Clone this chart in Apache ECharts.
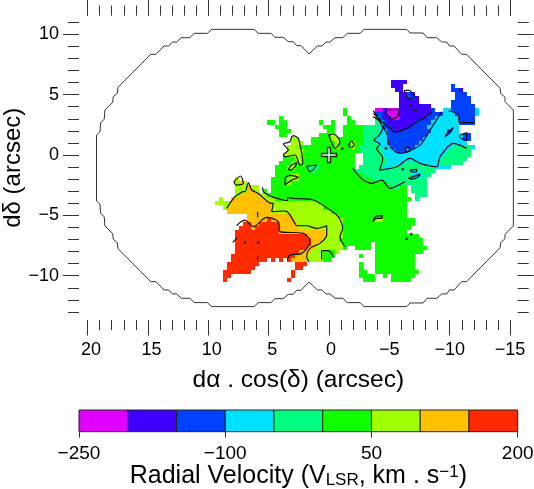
<!DOCTYPE html>
<html><head><meta charset="utf-8"><style>html,body{margin:0;padding:0;background:#fff}#c{width:534px;height:489px}</style>
<script src="https://cdn.jsdelivr.net/npm/echarts@6/dist/echarts.min.js"></script></head>
<body><div id="c"></div>
<script>
const xMajor=[20,15,10,5,0,-5,-10,-15];
const xMinor=[20,19,18,17,16,15,14,13,12,11,10,9,8,7,6,5,4,3,2,1,0,-1,-2,-3,-4,-5,-6,-7,-8,-9,-10,-11,-12,-13,-14,-15];
const yMajor=[10,5,0,-5,-10];
const yMinor=[11,10,9,8,7,6,5,4,3,2,1,0,-1,-2,-3,-4,-5,-6,-7,-8,-9,-10,-11,-12,-13];
const barEdges=[-250,-200,-150,-100,-50,0,50,100,150,200];
const barColors=['#E000FF','#4000FF','#0040FF','#00E0FF','#00FF80','#10FF00','#A0FF00','#FFC000','#FF2A00'];
const binVelocity=[-225,-175,-125,-75,-25,25,75,125,175];
const alphaStart=9.28, alphaStep=0.3314, deltaStart=6.05, deltaStep=0.3355;
// each row: spans of [first column, last column, velocity bin]; later spans overwrite earlier ones
const rowSpans=[
[[44,47,1]],
[[44,46,1],[59,59,2]],
[[45,46,1],[59,60,2],[61,61,1]],
[[46,49,1],[48,48,2],[60,62,2]],
[[46,50,1],[48,49,2],[60,63,2]],
[[46,50,1],[59,63,2]],
[[46,53,1],[59,64,2]],
[[32,32,5],[40,41,0],[42,42,1],[43,45,0],[46,53,1],[54,54,2],[57,58,3],[59,64,2],[65,65,3]],
[[32,32,5],[40,41,2],[42,42,1],[43,45,0],[46,53,1],[54,56,2],[57,59,3],[60,64,2],[65,65,3]],
[[16,16,5],[33,33,5],[40,40,3],[41,41,2],[42,52,1],[44,45,0],[53,54,2],[55,60,3],[61,64,2]],
[[13,14,5],[16,17,5],[26,26,5],[29,29,5],[33,34,5],[40,40,4],[41,41,3],[42,42,2],[43,49,1],[50,53,2],[54,60,3],[61,64,2]],
[[15,17,5],[27,29,5],[32,36,5],[37,40,4],[41,41,3],[42,43,2],[44,48,1],[49,52,2],[53,60,3]],
[[16,18,5],[28,29,5],[32,36,5],[37,40,4],[41,42,3],[43,53,2],[45,45,1],[54,60,3],[58,58,2]],
[[16,17,5],[26,29,5],[29,29,6],[32,36,5],[37,40,4],[41,42,3],[43,52,2],[53,61,3],[62,63,2]],
[[19,20,6],[24,36,5],[29,30,6],[37,39,4],[40,42,3],[43,51,2],[52,61,3],[62,63,2]],
[[19,21,6],[24,36,5],[30,30,6],[34,34,6],[37,40,4],[41,42,3],[43,50,2],[51,62,3]],
[[18,20,6],[21,35,5],[30,30,6],[34,34,6],[36,40,4],[41,43,3],[44,49,2],[50,58,3],[59,63,4],[64,64,3]],
[[18,21,6],[22,35,5],[36,41,4],[42,44,3],[45,47,2],[48,57,3],[58,63,4]],
[[17,21,6],[22,34,5],[37,41,4],[42,56,3],[57,63,4]],
[[17,19,5],[20,21,6],[22,34,5],[37,42,4],[43,55,3],[56,62,4]],
[[16,18,5],[19,19,6],[20,20,5],[21,21,6],[22,34,5],[37,42,4],[43,46,3],[47,50,4],[51,55,3],[56,61,4]],
[[15,17,5],[18,19,6],[20,34,5],[23,25,4],[36,41,4],[42,43,3],[44,54,4],[55,58,3]],
[[15,34,5],[24,24,4],[35,54,4],[49,50,3]],
[[15,36,5],[19,20,6],[37,53,4],[49,51,3]],
[[5,5,6],[14,38,5],[18,20,6],[39,52,4]],
[[5,5,6],[6,6,7],[7,7,6],[14,42,5],[18,18,6],[43,52,4]],
[[5,10,6],[8,8,7],[14,47,5],[44,45,4],[49,52,4]],
[[5,7,6],[8,9,7],[10,10,6],[12,12,5],[14,47,5],[49,52,4]],
[[5,5,6],[6,10,7],[11,12,6],[13,47,5],[50,52,4]],
[[1,1,6],[4,12,7],[13,14,6],[15,48,5],[50,50,4]],
[[0,3,6],[4,13,7],[14,25,6],[26,47,5]],
[[2,2,6],[3,13,7],[14,26,6],[27,47,5]],
[[3,13,7],[14,28,6],[29,47,5]],
[[8,18,7],[19,30,6],[31,47,5]],
[[8,19,7],[13,13,8],[20,31,6],[32,49,5],[40,41,6]],
[[7,8,8],[9,10,7],[11,15,8],[16,19,7],[20,31,6],[32,49,5]],
[[6,8,8],[9,9,7],[10,15,8],[16,20,7],[21,31,6],[32,48,5]],
[[5,15,8],[16,27,7],[28,31,6],[32,47,5]],
[[5,22,8],[23,27,7],[28,31,6],[32,50,5]],
[[5,23,8],[24,26,7],[27,30,6],[31,51,5]],
[[5,23,8],[24,25,7],[26,31,6],[32,38,5],[40,51,5]],
[[5,22,8],[23,24,7],[25,31,6],[32,32,5],[35,38,5],[40,52,5]],
[[5,20,8],[21,23,7],[24,30,6],[27,29,5],[40,51,5]],
[[4,19,8],[20,22,7],[23,26,6],[27,29,5],[36,36,5],[40,49,5]],
[[4,12,8],[14,14,8],[16,16,8],[18,18,8],[19,22,7],[23,26,6],[27,28,5],[40,49,5]],
[[3,10,8],[20,22,8],[36,36,5],[40,49,5]],
[[3,9,8],[20,21,8],[36,36,5],[40,49,5]],
[[2,8,8],[19,19,8],[36,37,5],[40,50,5]],
[[2,3,8],[19,19,8],[36,39,5],[42,42,5],[44,49,5]],
[[2,2,8],[18,18,8],[37,39,5],[44,48,5]]
];
const fieldOutline=[[19.26,1.66],[18.97,1.93],[18.92,2.68],[18.62,2.96],[18.56,3.73],[17.92,4.37],[17.87,4.83],[17.54,5.11],[17.48,5.61],[14.77,8.34],[14.33,8.34],[13.67,9.03],[13.31,9.03],[12.95,9.36],[12.62,9.36],[12.24,9.72],[11.52,9.72],[11.18,10.08],[10.08,10.08],[9.72,10.41],[6.21,10.41],[5.86,10.08],[4.81,10.08],[4.47,9.75],[3.79,9.75],[3.37,9.39],[2.96,9.39],[2.68,9.06],[2.32,9.06],[1.66,8.37],[0.97,9.03],[0.60,9.03],[0.25,9.36],[-0.08,9.36],[-0.50,9.72],[-1.14,9.72],[-1.52,10.08],[-2.57,10.08],[-2.92,10.41],[-6.44,10.41],[-6.71,10.11],[-7.79,10.11],[-8.12,9.72],[-8.92,9.72],[-9.34,9.36],[-9.75,9.36],[-9.97,9.03],[-10.36,9.03],[-10.99,8.34],[-11.40,8.34],[-14.17,5.53],[-14.22,5.11],[-14.58,4.78],[-14.58,4.42],[-15.27,3.73],[-15.27,-5.88],[-14.58,-6.57],[-14.58,-6.93],[-14.22,-7.26],[-14.17,-7.68],[-11.40,-10.49],[-10.99,-10.49],[-10.36,-11.18],[-9.97,-11.18],[-9.75,-11.51],[-9.34,-11.51],[-8.92,-11.87],[-8.12,-11.87],[-7.79,-12.26],[-6.71,-12.26],[-6.44,-12.56],[-2.92,-12.56],[-2.57,-12.23],[-1.52,-12.23],[-1.14,-11.87],[-0.50,-11.87],[-0.08,-11.51],[0.25,-11.51],[0.60,-11.18],[0.97,-11.18],[1.66,-10.52],[2.32,-11.21],[2.68,-11.21],[2.96,-11.54],[3.37,-11.54],[3.79,-11.90],[4.47,-11.90],[4.81,-12.23],[5.86,-12.23],[6.21,-12.56],[9.72,-12.56],[10.08,-12.23],[11.18,-12.23],[11.52,-11.87],[12.24,-11.87],[12.62,-11.51],[12.95,-11.51],[13.31,-11.18],[13.67,-11.18],[14.33,-10.49],[14.77,-10.49],[17.48,-7.76],[17.54,-7.26],[17.87,-6.98],[17.92,-6.52],[18.56,-5.88],[18.62,-5.11],[18.92,-4.83],[18.97,-4.08],[19.26,-3.81],[19.26,1.66]];
const contourPurpleBlue=[[-3.67,3.45],[-4.23,2.90],[-4.92,2.34],[-5.47,1.93],[-6.44,2.21],[-7.54,2.90],[-8.56,3.59]];
const contourBlueCyan=[[-3.67,3.67],[-4.09,3.03],[-4.45,2.34],[-4.78,1.79],[-5.06,0.69],[-5.88,0.13],[-7.54,0.82],[-8.37,2.07],[-9.34,3.59]];
const contourCyanSpring=[[-3.62,3.17],[-4.09,2.90],[-4.45,2.21],[-4.17,1.65],[-3.73,1.24],[-4.23,0.91],[-3.95,0.55],[-4.45,-0.28],[-4.17,-1.25],[-5.61,-0.97],[-6.71,-0.28],[-7.54,-0.69],[-8.92,-0.97],[-9.20,-0.14],[-10.30,0.96],[-11.41,0.55]];
const contourSpringGreen=[[-1.96,-1.11],[-2.29,-1.52],[-2.85,-2.08],[-3.54,-2.35],[-4.37,-2.08],[-5.06,-2.77],[-5.75,-2.49],[-6.30,-2.21]];
const contourRightBlue=[[-9.89,3.67],[-10.72,3.31],[-10.80,2.68],[-12.10,2.68]];
const contourBlueTriangle=[[-11.41,1.87],[-10.80,1.52],[-11.41,1.18],[-11.41,1.87]];
const contourSliver=[[-10.30,2.29],[-9.89,1.93],[-9.61,1.52],[-10.03,1.85],[-10.30,2.29]];
const contourLeaf=[[0.05,1.65],[-0.36,1.74],[-0.91,1.10],[-0.50,0.55],[-0.08,1.38],[0.05,1.65]];
const contourDiamond=[[-1.60,0.82],[-1.88,1.16],[-2.07,0.82],[-1.82,0.60],[-1.60,0.82]];
const contourLimeWest=[[2.87,1.60],[2.54,1.38],[2.40,0.82],[2.26,0.13],[2.18,-0.69],[2.40,-0.83],[2.82,0.00],[3.65,-0.14],[3.78,0.00],[3.37,0.41],[3.78,0.91],[3.23,1.10],[3.09,1.52],[2.87,1.60]];
const contourLimeSliver=[[3.37,-1.19],[3.09,-0.83],[2.68,-0.64],[2.82,-0.97],[3.23,-1.25],[3.37,-1.19]];
const contourCrescent=[[3.65,-2.49],[3.65,-1.94],[3.23,-1.69],[2.54,-1.86],[3.09,-2.08],[3.65,-2.49]];
const contourTriangle=[[1.85,-0.92],[1.02,-0.83],[1.57,-1.39],[1.85,-0.92]];
const contourCyanSpot=[[-6.24,0.49],[-6.49,0.69],[-6.71,0.47],[-6.47,0.27],[-6.24,0.49]];
const contourOval=[[-6.71,-1.25],[-7.27,-1.19],[-7.21,-1.41],[-6.77,-1.39],[-6.71,-1.25]];
const contourTail=[[-6.57,-1.94],[-7.54,-1.58],[-7.40,-1.80],[-6.85,-2.00],[-6.57,-1.94]];
const contourBlueOval=[[-6.22,5.33],[-6.58,5.38],[-7.04,4.83],[-6.66,4.61],[-6.22,5.33]];
const contourMagenta=[[-4.72,3.73],[-5.80,3.78],[-5.75,3.31],[-5.19,2.95],[-4.72,3.59],[-4.72,3.73]];
const contourOrange=[[8.48,-4.42],[7.79,-3.45],[7.38,-3.18],[7.15,-3.04],[6.96,-3.04],[6.68,-2.29],[6.41,-2.90],[5.86,-3.18],[4.75,-4.01],[4.61,-4.01],[4.75,-4.70],[3.78,-4.64],[3.45,-4.70],[2.82,-5.66],[2.68,-5.86],[1.85,-5.86],[1.02,-6.08],[0.19,-5.86],[0.19,-6.63],[0.75,-7.32],[1.57,-7.73],[1.85,-8.43],[1.66,-8.84]];
const contourRed=[[7.65,-5.86],[7.32,-5.55],[6.96,-5.39],[6.27,-5.94],[5.17,-5.17],[4.20,-5.52],[4.06,-6.35],[2.13,-6.49],[1.57,-7.18],[2.26,-8.15],[3.23,-8.29],[3.45,-8.70]];
const contourLimeGreen=[[5.50,-2.68],[5.44,-3.04],[4.75,-3.45],[3.78,-3.73],[3.45,-3.78],[3.42,-3.51],[2.96,-3.59],[1.30,-3.73],[-0.08,-4.56],[-0.77,-5.11],[-1.13,-6.08],[-0.91,-6.77],[-1.33,-7.60]];
const contourGreenPatch=[[0.61,-8.65],[0.61,-7.93],[0.06,-7.93],[-0.36,-8.43]];
const contourOrangePatch=[[7.87,-2.21],[7.32,-1.74],[7.10,-2.35],[7.71,-2.49],[7.87,-2.21]];
const contourSouthSliver=[[-3.62,-5.52],[-3.95,-5.05],[-4.42,-5.03],[-4.37,-5.25],[-3.95,-5.25],[-3.62,-5.52]];
const contourDashA=[[5.91,-4.70],[5.91,-5.17]];
const contourDashB=[[5.91,-8.37],[5.91,-8.70]];
const contourDashC=[[7.98,-7.24],[7.60,-6.85]];
const contourDashD=[[-6.85,3.73],[-7.30,3.70]];
const contours=[contourPurpleBlue,contourBlueCyan,contourCyanSpring,contourSpringGreen,contourRightBlue,contourBlueTriangle,contourSliver,contourLeaf,contourDiamond,contourLimeWest,contourLimeSliver,contourCrescent,contourTriangle,contourCyanSpot,contourOval,contourTail,contourBlueOval,contourMagenta,contourOrange,contourRed,contourLimeGreen,contourGreenPatch,contourOrangePatch,contourSouthSliver,contourDashA,contourDashB,contourDashC,contourDashD];
const spotPoints=[[6.96,-7.24],[5.86,-7.24],[-6.80,-6.55],[-6.44,-6.93],[-6.10,-1.19],[-1.10,0.52],[-4.72,0.55],[-6.77,4.08]];
const referenceMark=[[0,0]];

const FONT='"Liberation Sans",Arial,sans-serif';
const cells=[];
rowSpans.forEach((spans,j)=>{
  const row={};
  spans.forEach(s=>{for(let k=s[0];k<=s[1];k++)row[k]=s[2];});
  Object.keys(row).forEach(k=>cells.push([alphaStart-alphaStep*k,deltaStart-deltaStep*j,binVelocity[row[k]]]));
});
const minus=v=>String(v).replace('-','\u2212');
const noLine={show:false,onZero:false};
const xBase={type:'value',gridIndex:0,inverse:true,min:-15.63,max:20.71,splitLine:{show:false},axisLine:noLine,axisLabel:{show:false}};
const yBase={type:'value',gridIndex:0,min:-13.67,max:11.55,splitLine:{show:false},axisLine:noLine,axisLabel:{show:false}};
const tick=(vals,len)=>({show:true,inside:false,length:len,customValues:vals,lineStyle:{color:'#333',width:1}});
const labelStyle=vals=>({show:true,customValues:vals,formatter:minus,color:'#000',fontFamily:FONT,fontSize:18});
const labelRich={fontFamily:FONT,fontSize:18,color:'#000'};
const xAxes=[
 {...xBase,position:'bottom',axisTick:tick(xMajor,15.5),
  axisLabel:{...labelStyle(xMajor),margin:21,
    formatter:v=>v>0?'{p|'+v+'}':v===0?'{z|0}':minus(v),
    rich:{p:{...labelRich,padding:[0,0,0,7]},z:{...labelRich,padding:[0,0,0,4]}}},
  name:'d\u03b1 . cos(\u03b4) (arcsec)',nameLocation:'middle',nameGap:48,nameMoveOverlap:false,nameTextStyle:{color:'#000',fontFamily:FONT,fontSize:24.5}},
 {...xBase,position:'bottom',axisTick:tick(xMinor,10)},
 {...xBase,position:'top',axisTick:tick(xMajor,15.5)},
 {...xBase,position:'top',axisTick:tick(xMinor,10)},
 {type:'value',gridIndex:1,min:-250,max:200,interval:150,splitLine:{show:false},axisLine:noLine,
  axisTick:{show:true,length:6,lineStyle:{color:'#333'}},
  axisLabel:{formatter:minus,color:'#000',fontFamily:FONT,fontSize:19,margin:13,showMinLabel:true,showMaxLabel:true,hideOverlap:false},
  name:'Radial Velocity (V{sub|LSR}, km . s{sup|\u22121})',nameLocation:'middle',nameGap:32,nameMoveOverlap:false,
  nameTextStyle:{color:'#000',fontFamily:FONT,fontSize:25,rich:{sub:{fontFamily:FONT,fontSize:17,color:'#000',verticalAlign:'bottom',padding:[8,0,0,0]},sup:{fontFamily:FONT,fontSize:17,color:'#000',verticalAlign:'top',padding:[0,0,8,0]}}}}
];
const yAxes=[
 {...yBase,position:'left',axisTick:tick(yMajor,16),axisLabel:{...labelStyle(yMajor),margin:20},name:'d\u03b4 (arcsec)',nameLocation:'middle',nameGap:54,nameMoveOverlap:false,nameRotate:90,nameTextStyle:{color:'#000',fontFamily:FONT,fontSize:24}},
 {...yBase,position:'left',axisTick:tick(yMinor,11)},
 {...yBase,position:'right',axisTick:tick(yMajor,16)},
 {...yBase,position:'right',axisTick:tick(yMinor,11)},
 {type:'value',gridIndex:1,min:0,max:1,show:false}
];
const series=[{
  type:'custom',xAxisIndex:0,yAxisIndex:0,coordinateSystem:'cartesian2d',z:1,silent:true,clip:false,
  data:cells,encode:{x:0,y:1},
  renderItem:(p,api)=>{
    const c=api.coord([api.value(0),api.value(1)]);
    const s=api.size([alphaStep,deltaStep]);
    const bin=binVelocity.indexOf(api.value(2));
    const x0=Math.round(c[0]-s[0]/2),x1=Math.round(c[0]+s[0]/2),y0=Math.round(c[1]-s[1]/2),y1=Math.round(c[1]+s[1]/2);
    return {type:'rect',shape:{x:x0,y:y0,width:x1-x0,height:y1-y0},style:{fill:barColors[bin],stroke:null}};
  }
},{
  type:'line',xAxisIndex:0,yAxisIndex:0,data:fieldOutline,symbol:'none',z:2,silent:true,lineStyle:{color:'#333',width:1}
}];
contours.forEach(c=>series.push({type:'line',xAxisIndex:0,yAxisIndex:0,data:c,symbol:'none',smooth:0.3,z:3,silent:true,lineStyle:{color:'#111',width:1.2}}));
series.push({type:'scatter',xAxisIndex:0,yAxisIndex:0,data:spotPoints,symbol:'circle',symbolSize:3,z:3,silent:true,itemStyle:{color:'#222'}});
series.push({type:'scatter',xAxisIndex:0,yAxisIndex:0,data:referenceMark,symbol:'path://M4,0h2v4h4v2h-4v4h-2v-4h-4v-2h4z',symbolSize:15,z:4,silent:true,itemStyle:{color:'#fff',borderColor:'#000',borderWidth:1.5}});
series.push({
  type:'custom',xAxisIndex:4,yAxisIndex:4,coordinateSystem:'cartesian2d',z:2,silent:true,
  data:barColors.map((c,i)=>[barEdges[i],barEdges[i+1],i]),encode:{x:[0,1]},
  renderItem:(p,api)=>{
    const a=api.coord([api.value(0),1]),b=api.coord([api.value(1),0]);
    return {type:'rect',shape:{x:a[0],y:a[1],width:b[0]-a[0],height:b[1]-a[1]},style:{fill:barColors[api.value(2)],stroke:'#222',lineWidth:1}};
  }
});
const chart=echarts.init(document.getElementById('c'),null,{renderer:'canvas'});
chart.setOption({
  animation:false,backgroundColor:'#fff',textStyle:{fontFamily:FONT},
  grid:[{left:79,right:16.3,top:15.6,height:304.4,outerBoundsMode:'none'},{left:79,right:16.3,top:410,height:21.7,outerBoundsMode:'none'}],
  xAxis:xAxes,yAxis:yAxes,series
});
</script></body></html>
